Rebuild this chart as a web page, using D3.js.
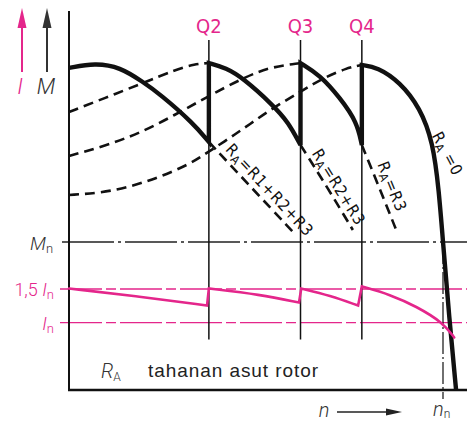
<!DOCTYPE html>
<html>
<head>
<meta charset="utf-8">
<script src="https://cdn.jsdelivr.net/npm/d3@7"></script>
<style>
html, body { margin: 0; padding: 0; background: #fff; }
svg { display: block; }
</style>
</head>
<body>
<div class="chart"></div>
<script>
// n as fraction of nn, M as fraction of Mn, I as fraction of In
const qNames = ['Q2', 'Q3', 'Q4'];
const qSpeed = [0.374, 0.619, 0.783];

// RA = R1+R2+R3
const curve1Solid = [[0, 2.176], [0.070, 2.209], [0.136, 2.182], [0.198, 2.081], [0.243, 2.0], [0.332, 1.804], [0.374, 1.676]];
const curve1Tail = [[0.374, 1.676], [0.484, 1.378], [0.599, 1.068]];
// RA = R2+R3
const curve2Rise = [[0, 1.878], [0.096, 1.973], [0.198, 2.074], [0.283, 2.162], [0.337, 2.203], [0.374, 2.209]];
const curve2Solid = [[0.374, 2.209], [0.420, 2.176], [0.465, 2.108], [0.545, 1.926], [0.586, 1.811], [0.619, 1.655]];
const curve2Tail = [[0.619, 1.655], [0.690, 1.372], [0.759, 1.081]];
// RA = R3
const curve3Rise = [[0, 1.581], [0.096, 1.649], [0.190, 1.736], [0.283, 1.858], [0.369, 1.980], [0.465, 2.108], [0.537, 2.182], [0.619, 2.209]];
const curve3Solid = [[0.619, 2.209], [0.671, 2.128], [0.725, 1.973], [0.770, 1.811], [0.783, 1.655]];
const curve3Tail = [[0.783, 1.655], [0.830, 1.365], [0.877, 1.068]];
// RA = 0
const curve4Rise = [[0, 1.318], [0.083, 1.331], [0.163, 1.372], [0.243, 1.439], [0.324, 1.527], [0.372, 1.608], [0.430, 1.703], [0.484, 1.797], [0.545, 1.905], [0.618, 2.014], [0.679, 2.108], [0.743, 2.176], [0.783, 2.196]];
const curve4Solid = [[0.783, 2.196], [0.824, 2.182], [0.885, 2.081], [0.939, 1.905], [0.973, 1.676], [0.989, 1.351], [1.0, 1.0], [1.016, 0.507], [1.035, 0]];

// rotor current steps
const current1 = [[0, 1.507], [0.190, 1.388], [0.369, 1.254]];
const current2 = [[0.374, 1.507], [0.511, 1.418], [0.615, 1.299]];
const current3 = [[0.621, 1.507], [0.698, 1.403], [0.773, 1.254]];
const current4 = [[0.783, 1.537], [0.858, 1.418], [0.930, 1.239], [1.0, 1.0], [1.030, 0.780]];

const mRefValue = 1;
const iRefValues = [1.5, 1];
const iRefPrefix = ['1,5 ', ''];
const tailLabels = ['=R1+R2+R3', '=R2+R3', '=R3'];

const width = 467, height = 424;
const magenta = '#e4268b';
const ink = '#111';

const svg = d3.select('div.chart').append('svg').attr('width', width).attr('height', height);

const x = d3.scaleLinear().domain([0, 1]).range([69, 443]);
const yM = d3.scaleLinear().domain([0, 1]).range([390, 242]);
const yI = d3.scaleLinear().domain([0, 1.5]).range([390, 289]);

const mLine = d3.line().x(d => x(d[0])).y(d => yM(d[1])).curve(d3.curveBasis);
const iLine = d3.line().x(d => x(d[0])).y(d => yI(d[1])).curve(d3.curveBasis);
const joinSegments = (gen, segs) => segs.map((s, i) => i === 0 ? gen(s) : gen(s).replace(/^M/, 'L')).join('');

const labelFont = "'DejaVu Sans', sans-serif";
const italicFont = "Roboto, 'DejaVu Sans', sans-serif";

// reference lines
svg.append('line')
    .attr('x1', 62).attr('x2', width)
    .attr('y1', yM(mRefValue)).attr('y2', yM(mRefValue))
    .attr('stroke', '#222').attr('stroke-width', 1.5)
    .attr('stroke-dasharray', '52,4,3,4');

svg.selectAll('line.iref')
    .data(iRefValues)
    .enter()
    .append('line')
    .classed('iref', true)
    .attr('x1', 60).attr('x2', width)
    .attr('y1', d => yI(d)).attr('y2', d => yI(d))
    .attr('stroke', magenta).attr('stroke-width', 1.3)
    .attr('stroke-dasharray', '42,4,10,4');

// nn marker
svg.append('line')
    .attr('x1', x(1)).attr('x2', x(1))
    .attr('y1', yM(mRefValue)).attr('y2', 399)
    .attr('stroke', ink).attr('stroke-width', 1.2)
    .attr('stroke-dasharray', '22,3,2,3');

// switching points
svg.selectAll('line.q')
    .data(qSpeed)
    .enter()
    .append('line')
    .classed('q', true)
    .attr('x1', d => x(d)).attr('x2', d => x(d))
    .attr('y1', 40).attr('y2', yI(0.75))
    .attr('stroke', ink).attr('stroke-width', 1.5);

svg.selectAll('text.q')
    .data(qNames)
    .enter()
    .append('text')
    .classed('q', true)
    .attr('x', (d, i) => x(qSpeed[i]))
    .attr('y', 33)
    .attr('text-anchor', 'middle')
    .attr('fill', magenta)
    .attr('font-family', labelFont)
    .attr('font-stretch', 'condensed')
    .attr('font-size', 20)
    .text(d => d);

// axes
svg.append('line')
    .attr('x1', x(0)).attr('x2', x(0))
    .attr('y1', 11).attr('y2', yM(0) + 1)
    .attr('stroke', ink).attr('stroke-width', 2);
svg.append('line')
    .attr('x1', x(0) - 1).attr('x2', width)
    .attr('y1', yM(0)).attr('y2', yM(0))
    .attr('stroke', ink).attr('stroke-width', 2.4);

// dashed torque curves
[curve2Rise, curve3Rise, curve4Rise, curve1Tail, curve2Tail, curve3Tail].forEach(pts => {
    svg.append('path')
        .attr('d', mLine(pts))
        .attr('fill', 'none')
        .attr('stroke', ink)
        .attr('stroke-width', 2.6)
        .attr('stroke-dasharray', '10,6');
});

// torque envelope during starting
svg.append('path')
    .attr('d', joinSegments(mLine, [curve1Solid, curve2Solid, curve3Solid, curve4Solid]))
    .attr('fill', 'none')
    .attr('stroke', ink)
    .attr('stroke-width', 4.4)
    .attr('stroke-linejoin', 'miter');

// current
svg.append('path')
    .attr('d', joinSegments(iLine, [current1, current2, current3, current4]))
    .attr('fill', 'none')
    .attr('stroke', magenta)
    .attr('stroke-width', 2.6)
    .attr('stroke-linecap', 'round');

// labels along the curve tails
const addRA = (sel, subSize) => {
    sel.append('tspan').text('R');
    sel.append('tspan').attr('font-size', subSize).attr('dy', 3).text('A');
};

[curve1Tail, curve2Tail, curve3Tail].forEach((pts, i) => {
    const p0 = [x(pts[0][0]), yM(pts[0][1])];
    const p1 = [x(pts[pts.length - 1][0]), yM(pts[pts.length - 1][1])];
    const angle = Math.atan2(p1[1] - p0[1], p1[0] - p0[0]) * 180 / Math.PI;
    const along = [15, 6, 3][i];
    const perp = [11, 10, 12][i];
    const t = svg.append('text')
        .attr('transform', `translate(${(p0[0] + p1[0]) / 2}, ${(p0[1] + p1[1]) / 2}) rotate(${angle})`)
        .attr('x', along).attr('y', -perp + 5)
        .attr('text-anchor', 'middle')
        .attr('font-family', labelFont)
        .attr('font-stretch', 'condensed')
        .attr('font-size', 16)
        .attr('letter-spacing', 0.8)
        .attr('fill', ink);
    addRA(t, 12);
    t.append('tspan').attr('dy', -3).text(tailLabels[i]);
});

const ra0 = svg.append('text')
    .attr('transform', `translate(${x(1.011)}, ${yM(1.595)}) rotate(62)`)
    .attr('y', 5)
    .attr('text-anchor', 'middle')
    .attr('font-family', labelFont)
    .attr('font-stretch', 'condensed')
    .attr('font-size', 16)
    .attr('letter-spacing', 0.8)
    .attr('fill', ink);
addRA(ra0, 12);
ra0.append('tspan').attr('dy', -3).text(' =0');

// left labels
const mLabel = svg.append('text')
    .attr('x', 30).attr('y', yM(mRefValue) + 8)
    .attr('font-family', italicFont).attr('font-weight', 300)
    .attr('fill', '#333').attr('font-size', 19);
mLabel.append('tspan').attr('font-style', 'italic').text('M');
mLabel.append('tspan').attr('font-size', 13).attr('dy', 3).text('n');

svg.selectAll('text.iref')
    .data(iRefValues)
    .enter()
    .append('text')
    .classed('iref', true)
    .attr('x', 54)
    .attr('y', d => yI(d) + 7)
    .attr('text-anchor', 'end')
    .attr('font-family', italicFont).attr('font-weight', 300)
    .attr('fill', magenta).attr('font-size', 18)
    .each(function (d, i) {
        const t = d3.select(this);
        if (iRefPrefix[i]) t.append('tspan').text(iRefPrefix[i]);
        t.append('tspan').attr('font-style', 'italic').text('I');
        t.append('tspan').attr('font-size', 13).attr('dy', 3).text('n');
    });

// quantity arrows at top left
const drawArrow = (cx, color) => {
    svg.append('line')
        .attr('x1', cx).attr('x2', cx).attr('y1', 72).attr('y2', 24)
        .attr('stroke', color).attr('stroke-width', 2);
    svg.append('path')
        .attr('d', `M${cx},8 L${cx + 4.5},28 L${cx - 4.5},28 Z`)
        .attr('fill', color);
};
drawArrow(22, magenta);
drawArrow(47, '#333');

svg.append('text')
    .attr('x', 20).attr('y', 94).attr('text-anchor', 'middle')
    .attr('font-family', italicFont).attr('font-weight', 300).attr('font-style', 'italic')
    .attr('font-size', 22).attr('fill', magenta).text('I');
svg.append('text')
    .attr('x', 46).attr('y', 94).attr('text-anchor', 'middle')
    .attr('font-family', italicFont).attr('font-weight', 300).attr('font-style', 'italic')
    .attr('font-size', 22).attr('fill', '#333').text('M');

// caption inside frame
const cap = svg.append('text')
    .attr('x', 101).attr('y', 378)
    .attr('font-family', italicFont).attr('font-weight', 300)
    .attr('font-size', 20).attr('fill', '#333');
cap.append('tspan').attr('font-style', 'italic').text('R');
cap.append('tspan').attr('font-size', 12).attr('dy', 3).text('A');
svg.append('text')
    .attr('x', 148).attr('y', 377)
    .attr('font-family', "'Liberation Sans', Arial, sans-serif")
    .attr('font-size', 19).attr('fill', '#222')
    .attr('textLength', 170).attr('lengthAdjust', 'spacing')
    .text('tahanan asut rotor');

// speed axis label
svg.append('text')
    .attr('x', 324).attr('y', 417).attr('text-anchor', 'middle')
    .attr('font-family', italicFont).attr('font-weight', 300).attr('font-style', 'italic')
    .attr('font-size', 20).attr('fill', '#333').text('n');
svg.append('line')
    .attr('x1', 337).attr('x2', 388).attr('y1', 412).attr('y2', 412)
    .attr('stroke', '#222').attr('stroke-width', 1.5);
svg.append('path')
    .attr('d', 'M402,412 L386,408.5 L386,415.5 Z')
    .attr('fill', '#222');
const nn = svg.append('text')
    .attr('x', 433).attr('y', 416)
    .attr('font-family', italicFont).attr('font-weight', 300)
    .attr('font-size', 20).attr('fill', '#333');
nn.append('tspan').attr('font-style', 'italic').text('n');
nn.append('tspan').attr('font-size', 12).attr('dy', 2).text('n');
</script>
</body>
</html>
